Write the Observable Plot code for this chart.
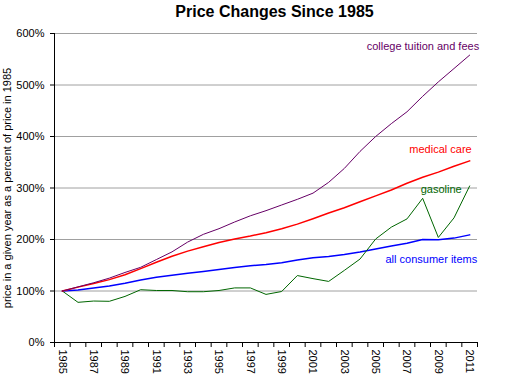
<!DOCTYPE html>
<html>
<head>
<meta charset="utf-8">
<script src="https://cdn.jsdelivr.net/npm/d3@7"></script>
<script src="https://cdn.jsdelivr.net/npm/@observablehq/plot@0.6"></script>
<style>
  html, body { margin: 0; padding: 0; background: #fff; }
</style>
</head>
<body>
<div id="chart"></div>
<script>
const title = "Price Changes Since 1985";
const yLabel = "price in a given year as a percent of price in 1985";
const years = d3.range(1985, 2012);
const tuition = [100, 108, 116, 125, 136, 146, 161, 176, 195, 210, 221, 234, 246, 256, 267, 278, 290, 311, 338, 371, 400, 425, 448, 478, 506, 532, 558];
const medical = [100, 107.5, 114.6, 122.1, 131.5, 143.4, 155.9, 167.5, 177.4, 185.9, 194.3, 201.1, 206.7, 213.3, 220.8, 229.8, 240.4, 251.6, 261.8, 273.2, 284.8, 296.2, 309.3, 320.8, 330.9, 342.2, 352.7];
const gasoline = [100, 78, 80.5, 80, 89.5, 102.5, 101, 101, 98.6, 98.6, 101, 106, 106, 93.4, 99, 130, 124, 118.6, 140, 162, 201, 224, 240, 280, 204, 242, 304];
const allItems = [100, 101.9, 105.6, 109.9, 115.2, 121.5, 126.6, 130.4, 134.3, 137.7, 141.6, 145.8, 149.2, 151.5, 154.8, 160.0, 164.6, 167.2, 171.0, 175.6, 181.5, 187.4, 192.7, 200.1, 199.4, 202.7, 209.0];
const yTicks = [0, 100, 200, 300, 400, 500, 600];
const xTickLabels = d3.range(1985, 2012, 2);
const categoryEdges = d3.range(1984.5, 2012, 1);

const seriesNames = ["college tuition and fees", "medical care", "gasoline", "all consumer items"];
const seriesColors = ["#660066", "#ff0000", "#006600", "#0000ff"];

const font = "'Liberation Sans', Arial, sans-serif";
const last = years.length - 1;

const chart = Plot.plot({
  width: 521,
  height: 385,
  marginLeft: 54,
  marginRight: 44,
  marginTop: 33,
  marginBottom: 43,
  style: {fontFamily: font, fontSize: "11px", background: "#fff", color: "#000", overflow: "visible"},
  x: {type: "linear", domain: [1984.5, 2011.5]},
  y: {domain: [0, 600]},
  marks: [
    Plot.gridY(yTicks.filter(d => d > 0), {stroke: "#a0a0a0", strokeOpacity: 1}),
    Plot.axisY(yTicks, {tickFormat: d => d + "%", tickSize: 4, tickPadding: 6, fontSize: 11, label: null}),
    Plot.axisX(categoryEdges, {tickFormat: () => "", tickSize: 5, label: null}),
    Plot.text(xTickLabels, {x: d => d, text: d => String(d), frameAnchor: "bottom", rotate: 90, textAnchor: "start", lineAnchor: "middle", dy: 7, fontSize: 11}),
    Plot.ruleY([0], {stroke: "#000"}),
    Plot.ruleX([1984.5], {stroke: "#000"}),
    Plot.line(allItems, {x: years, y: allItems, stroke: seriesColors[3], strokeWidth: 1.5}),
    Plot.line(gasoline, {x: years, y: gasoline, stroke: seriesColors[2], strokeWidth: 1}),
    Plot.line(medical, {x: years, y: medical, stroke: seriesColors[1], strokeWidth: 1.5}),
    Plot.line(tuition, {x: years, y: tuition, stroke: seriesColors[0], strokeWidth: 1}),
    Plot.text([seriesNames[0]], {x: years[last], y: tuition[last], textAnchor: "end", dx: 9.5, dy: -8.5, fill: seriesColors[0], fontSize: 11}),
    Plot.text([seriesNames[1]], {x: years[last], y: medical[last], textAnchor: "end", dx: 2, dy: -11, fill: seriesColors[1], fontSize: 11}),
    Plot.text([seriesNames[2]], {x: years[last], y: gasoline[last], textAnchor: "end", dx: -8, dy: 4, fill: seriesColors[2], fontSize: 11}),
    Plot.text([seriesNames[3]], {x: years[last], y: allItems[last], textAnchor: "end", dx: 7.5, dy: 25, fill: seriesColors[3], fontSize: 11}),
    Plot.text([title], {frameAnchor: "top", textAnchor: "middle", lineAnchor: "middle", dx: 8.5, dy: -22, fontSize: 16, fontWeight: "bold", fill: "#000"}),
    Plot.text([yLabel], {frameAnchor: "left", rotate: -90, textAnchor: "middle", lineAnchor: "middle", dx: -47, fontSize: 11, fill: "#000"})
  ]
});
document.getElementById("chart").appendChild(chart);
</script>
</body>
</html>
